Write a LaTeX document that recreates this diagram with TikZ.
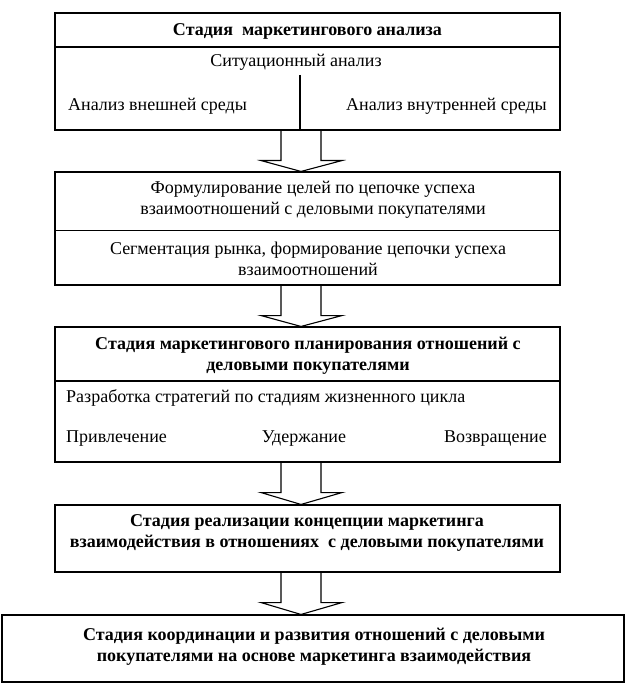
\documentclass[tikz,border=0pt]{standalone}
\usepackage{fontspec}
\setmainfont{Liberation Serif}
\usetikzlibrary{calc}
\newcommand\blkarrow[2]{%
  \draw[blk] (#1.south -| axl) -- ($(#1.south -| axl)+(0,30)$) -- ($(#1.south -| ahl)+(0,30)$)
    -- (#2.north -| ax) -- ($(#1.south -| ahr)+(0,30)$) -- ($(#1.south -| axr)+(0,30)$) -- (#1.south -| axr);}
\begin{document}
\begin{tikzpicture}[x=1pt,y=-1pt,
  box/.style={draw,line width=1.1pt,inner sep=0pt,minimum width=505pt},
  txt/.style={inner sep=0pt,align=center,font=\fontsize{18}{21}\selectfont},
  btxt/.style={txt,font=\fontsize{18}{21}\selectfont\bfseries},
  blk/.style={line width=1.1pt,line join=miter}]
\useasboundingbox (0,0) rectangle (628,692);
\fill[white] (0,0) rectangle (628,692);
\coordinate (ax) at (301,0);
\coordinate (axl) at (281,0);
\coordinate (axr) at (321,0);
\coordinate (ahl) at (261,0);
\coordinate (ahr) at (342,0);
% box 1
\node[box,minimum height=34pt] (b1t) at (307.5,30) {};
\node[box,minimum height=83pt] (b1b) at (307.5,88.5) {};
\node[btxt] (t1) at (307.5,31) {Стадия\ \ маркетингового анализа};
\node[txt] (t2) at (296,62) {Ситуационный анализ};
\node[txt,anchor=west] (t3) at (68,106) {Анализ внешней среды};
\node[txt,anchor=east] (t4) at (547,106) {Анализ внутренней среды};
\coordinate (vtop) at (300,75);
\draw[line width=1.1pt] (vtop) -- (vtop |- b1b.south);
% box 2
\node[box,minimum height=58.7pt] (b2t) at (307.5,201.35) {};
\node[box,minimum height=54.3pt] (b2b) at (307.5,257.85) {};
\node[txt] (t5) at (313,200) {Формулирование целей по цепочке успеха\\взаимоотношений с деловыми покупателями};
\node[txt] (t6) at (308,258.5) {Сегментация рынка, формирование цепочки успеха\\взаимоотношений};
% box 3
\node[box,minimum height=54pt] (b3t) at (307.5,354) {};
\node[box,minimum height=81pt] (b3b) at (307.5,421.5) {};
\node[btxt] (t7) at (308,356) {Стадия маркетингового планирования отношений с\\деловыми покупателями};
\node[txt,anchor=west] (t8) at (66,398) {Разработка стратегий по стадиям жизненного цикла};
\node[txt,anchor=west] (t9) at (66,439) {Привлечение};
\node[txt] (t10) at (304,439) {Удержание};
\node[txt,anchor=east] (t11) at (547,439) {Возвращение};
% box 4
\node[box,minimum height=67pt] (b4) at (307.5,538.5) {};
\node[btxt] (t12) at (307,533) {Стадия реализации концепции маркетинга\\взаимодействия в отношениях\ \ с деловыми покупателями};
% box 5
\node[box,minimum height=67pt,minimum width=622pt] (b5) at (313,648.5) {};
\node[btxt] (t13) at (314,647) {Стадия координации и развития отношений с деловыми\\покупателями на основе маркетинга взаимодействия};
% arrows
\blkarrow{b1b}{b2t}
\blkarrow{b2b}{b3t}
\blkarrow{b3b}{b4}
\blkarrow{b4}{b5}
\end{tikzpicture}
\end{document}
